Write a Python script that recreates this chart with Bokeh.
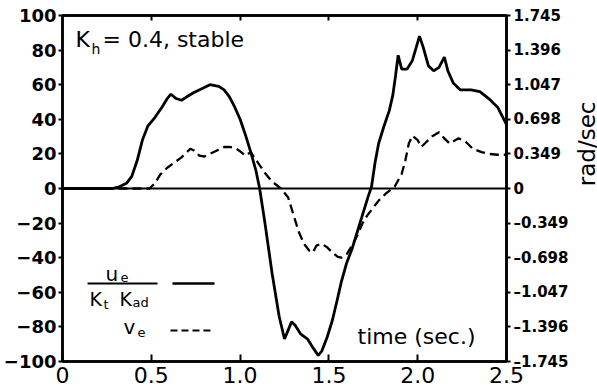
import math
from bokeh.plotting import figure
from bokeh.layouts import row
from bokeh.models import Range1d, LinearAxis, FixedTicker, Span, Label, Arrow
from bokeh.core.properties import value
from bokeh.embed import file_html
from bokeh.resources import INLINE

# ---- data ----
t_u = [0.0, 0.28, 0.32, 0.36, 0.39, 0.42, 0.45, 0.48, 0.52, 0.56, 0.59, 0.61, 0.64, 0.67,
       0.70, 0.74, 0.79, 0.83, 0.88, 0.91, 0.94, 0.97, 1.00, 1.03, 1.06, 1.09, 1.11, 1.14,
       1.18, 1.22, 1.25, 1.27, 1.29, 1.31, 1.34, 1.38, 1.41, 1.44, 1.46, 1.49, 1.52, 1.55,
       1.57, 1.60, 1.63, 1.66, 1.69, 1.72, 1.74, 1.76, 1.78, 1.81, 1.84, 1.86, 1.875, 1.89,
       1.91, 1.94, 1.97, 1.99, 2.01, 2.03, 2.06, 2.09, 2.12, 2.15, 2.17, 2.20, 2.24, 2.30,
       2.35, 2.40, 2.45, 2.50]
u_norm = [0, 0, 1, 3, 7, 16, 28, 36, 41, 47, 52, 54.5, 52, 51,
          53, 55.5, 58, 60, 59, 57, 53, 47, 40, 31, 21, 10, 0, -20,
          -49, -74, -87, -82, -77, -79, -84, -87, -92, -96.5, -94, -86, -76, -63,
          -54, -43, -35, -25, -15, -5, 1, 15, 26, 36, 45, 54, 65, 77,
          69, 69, 74, 81, 88, 82, 71, 68, 70, 76, 68, 61, 57, 57,
          56, 52, 47, 37]

t_v = [0.0, 0.49, 0.52, 0.55, 0.59, 0.63, 0.67, 0.70, 0.72, 0.74, 0.77, 0.80, 0.83, 0.87,
       0.91, 0.94, 0.97, 1.00, 1.03, 1.06, 1.10, 1.14, 1.18, 1.23, 1.27, 1.30, 1.33, 1.36,
       1.39, 1.41, 1.43, 1.46, 1.49, 1.52, 1.55, 1.57, 1.60, 1.63, 1.66, 1.69, 1.72, 1.75,
       1.78, 1.82, 1.87, 1.91, 1.93, 1.95, 1.97, 2.00, 2.02, 2.05, 2.08, 2.12, 2.15, 2.18,
       2.23, 2.27, 2.31, 2.36, 2.40, 2.45, 2.50]
v_e = [0, 0, 3, 8, 12, 15, 18, 21, 23, 22, 19, 18.5, 20, 22,
       24, 24, 23.5, 21.5, 19, 21, 15, 9, 4, 0, -5, -15, -25, -32,
       -36, -37, -33, -32, -34, -37, -39.5, -40, -38, -33, -27, -20, -15, -11,
       -7, -3, 1, 8.5, 16, 26, 30.5, 28, 24, 27, 30, 32.5, 29, 26,
       29, 27, 23, 21, 20, 19.5, 19.5]

x_ticks = [0, 0.5, 1.0, 1.5, 2.0, 2.5]
x_tick_labels = ["0", "0.5", "1.0", "1.5", "2.0", "2.5"]
y_ticks = [-100, -80, -60, -40, -20, 0, 20, 40, 60, 80, 100]
rad_ticks = [-1.745, -1.396, -1.047, -0.698, -0.349, 0, 0.349, 0.698, 1.047, 1.396, 1.745]
rad_labels = ["\u20131.745", "\u20131.396", "\u20131.047", "\u20130.698", "\u20130.349", "0",
              "0.349", "0.698", "1.047", "1.396", "1.745"]
right_caption = "rad/sec"

FONT = "DejaVu Sans"
SIDE_W = 28  # width of the strip carrying the right-hand caption

p = figure(frame_width=444, frame_height=346,
           x_range=Range1d(0, 2.5), y_range=Range1d(-100, 100),
           output_backend="svg", toolbar_location=None,
           min_border_left=60, min_border_right=93 - SIDE_W, min_border_top=15,
           min_border_bottom=27,
           background_fill_color="white", border_fill_color="white")
p.grid.visible = False
p.outline_line_color = "black"
p.outline_line_width = 2.5

# left axis
ya = p.yaxis[0]
ya.ticker = FixedTicker(ticks=y_ticks)
ya.major_tick_in = 0
ya.major_tick_out = 4
ya.minor_tick_line_color = None
ya.axis_line_width = 2.5
ya.major_tick_line_width = 2
ya.major_label_standoff = 2
ya.major_label_text_font = FONT
ya.major_label_text_font_style = "bold"
ya.major_label_text_font_size = "18px"
ya.major_label_text_color = "black"

# bottom axis
xa = p.xaxis[0]
xa.ticker = FixedTicker(ticks=x_ticks)
xa.major_label_overrides = dict(zip(x_ticks, x_tick_labels))
xa.major_tick_in = 7
xa.major_tick_out = 0
xa.minor_tick_line_color = None
xa.axis_line_width = 2.5
xa.major_tick_line_width = 2
xa.major_label_standoff = 5
xa.major_label_text_font = FONT
xa.major_label_text_font_size = "22px"
xa.major_label_text_color = "black"

# top axis (ticks only)
top = LinearAxis(ticker=FixedTicker(ticks=x_ticks[1:-1]), major_tick_in=5, major_tick_out=0,
                 minor_tick_line_color=None, axis_line_width=2.5, major_tick_line_width=2,
                 major_label_overrides={t: "" for t in x_ticks[1:-1]}, major_label_standoff=0)
p.add_layout(top, "above")

# right axis in rad/sec
p.extra_y_ranges = {"rad": Range1d(rad_ticks[0], rad_ticks[-1])}
ra = LinearAxis(y_range_name="rad", ticker=FixedTicker(ticks=rad_ticks),
                major_label_overrides=dict(zip(rad_ticks, rad_labels)),
                major_tick_in=0, major_tick_out=4, minor_tick_line_color=None,
                axis_line_width=2.5, major_tick_line_width=2, major_label_standoff=3,
                major_label_text_font=FONT, major_label_text_font_style="bold",
                major_label_text_font_size="15px", major_label_text_color="black")
p.add_layout(ra, "right")

# zero line
p.add_layout(Span(location=0, dimension="width", line_color="black", line_width=2))

# curves
p.line(t_u, u_norm, line_color="black", line_width=2.8)
p.line(t_v, v_e, line_color="black", line_width=2.3, line_dash="9 5")


def lab(text, x, y, xo, yo, size, align="left"):
    # empirical correction so that yo marks the alphabetic baseline
    p.add_layout(Label(x=x, y=y, x_offset=xo, y_offset=yo + round(0.36 * size), text=text,
                       text_font=FONT, text_font_size=f"{size}px", text_align=align,
                       text_baseline="alphabetic", text_color="black"))


# annotation top-left (anchored to top-left corner of the frame)
lab("K", 0, 100, 13, -32, 22)
lab("h", 0, 100, 29, -38, 14)
lab("= 0.4, stable", 0, 100, 40, -32, 22)

# legend text (anchored to bottom-left corner of the frame)
lab("u", 0, -100, 43, 81, 20)
lab("e", 0, -100, 58, 79, 13)
lab("K", 0, -100, 27, 56, 19)
lab("t", 0, -100, 41, 52, 13)
lab("K", 0, -100, 57, 56, 19)
lab("ad", 0, -100, 70, 54, 13)
lab("v", 0, -100, 61, 28, 20)
lab("e", 0, -100, 75, 24, 13)

# legend lines
p.add_layout(Arrow(end=None, x_start=0.141, y_start=-54.9, x_end=0.535, y_end=-54.9,
                   line_color="black", line_width=2))
p.add_layout(Arrow(end=None, x_start=0.619, y_start=-54.9, x_end=0.856, y_end=-54.9,
                   line_color="black", line_width=2.5))
p.add_layout(Arrow(end=None, x_start=0.608, y_start=-82.1, x_end=0.833, y_end=-82.1,
                   line_color="black", line_width=2, line_dash="7 4"))

# x-axis caption inside the plot (anchored to bottom-right corner)
lab("time (sec.)", 2.5, -100, -31, 17, 22, align="right")

# narrow strip on the right carrying the rotated "rad/sec" caption (pixel-valued ranges)
side = figure(width=SIDE_W, height=388, x_range=Range1d(0, SIDE_W), y_range=Range1d(388, 0),
              output_backend="svg", toolbar_location=None, x_axis_type=None, y_axis_type=None,
              min_border=0, min_border_left=0, min_border_right=0, min_border_top=0,
              min_border_bottom=0, background_fill_color="white", border_fill_color="white")
side.grid.visible = False
side.outline_line_color = None
side.text(x=[15], y=[144], text=[right_caption], angle=math.pi / 2,
          text_font=value(FONT), text_font_size="23px", text_align="center",
          text_baseline="middle", text_color="black")

layout = row(p, side, spacing=0)
open("out.html", "w").write(file_html(layout, INLINE))
